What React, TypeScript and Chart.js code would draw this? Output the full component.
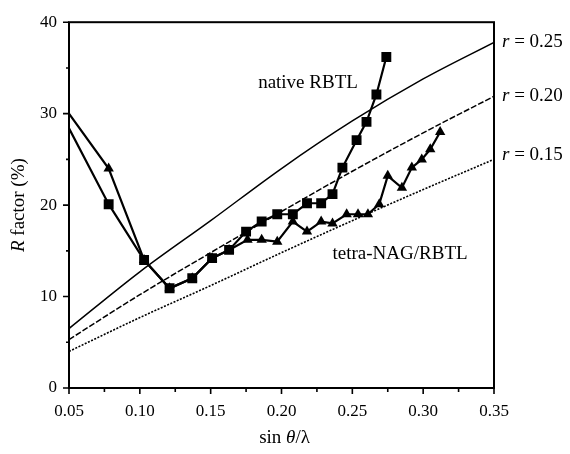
import React, { useEffect, useRef } from 'react';
import { Chart, registerables } from 'chart.js';

Chart.register(...registerables);

// ---- data ----
const xTicks = [0.05, 0.1, 0.15, 0.2, 0.25, 0.3, 0.35];
const xTickLabels = ['0.05', '0.10', '0.15', '0.20', '0.25', '0.30', '0.35'];
const xMinorTicks = [0.075, 0.125, 0.175, 0.225, 0.275, 0.325];
const yTicks = [0, 10, 20, 30, 40];
const yTickLabels = ['0', '10', '20', '30', '40'];
const yMinorTicks = [5, 15, 25, 35];

// native RBTL (squares)
const nativeX = [0.05, 0.078, 0.103, 0.121, 0.137, 0.151, 0.163, 0.175, 0.186, 0.197, 0.208, 0.218, 0.228, 0.236, 0.243, 0.253, 0.26, 0.267, 0.274];
const nativeY = [28.4, 20.1, 14.0, 10.9, 12.0, 14.2, 15.1, 17.1, 18.2, 19.0, 19.0, 20.2, 20.2, 21.2, 24.1, 27.1, 29.1, 32.1, 36.2];

// tetra-NAG/RBTL (triangles)
const tetraX = [0.05, 0.078, 0.103, 0.121, 0.137, 0.151, 0.163, 0.176, 0.186, 0.197, 0.208, 0.218, 0.228, 0.236, 0.246, 0.254, 0.261, 0.269, 0.275, 0.285, 0.292, 0.299, 0.305, 0.312];
const tetraY = [30.0, 24.0, 14.0, 10.9, 12.0, 14.2, 15.1, 16.2, 16.2, 16.0, 18.2, 17.1, 18.2, 18.0, 19.0, 19.0, 19.0, 20.1, 23.2, 21.9, 24.1, 25.0, 26.1, 28.0];

// Luzzati reference curves
const luzX = [0.05, 0.1, 0.15, 0.2, 0.25, 0.3, 0.35];
const r25 = [6.5, 12.7, 18.3, 24.0, 29.2, 33.8, 37.8];
const r20 = [5.3, 10.2, 14.8, 19.3, 23.7, 27.9, 31.9];
const r15 = [4.0, 7.7, 11.2, 14.8, 18.3, 21.7, 25.0];
const rNames = ['0.25', '0.20', '0.15'];
const rLabelY = [37.8, 31.9, 25.5];

const annotations = [
  { text: 'native RBTL', x: 0.2187, y: 33.3 },
  { text: 'tetra-NAG/RBTL', x: 0.2837, y: 14.7 },
];

const FONT = '"Liberation Serif", "Times New Roman", Times, serif';

type Seg = { t: string; i?: boolean };

function drawRich(ctx: CanvasRenderingContext2D, segs: Seg[], x: number, y: number, size: number, align: 'left' | 'center') {
  const widths = segs.map((s) => {
    ctx.font = `${s.i ? 'italic ' : ''}${size}px ${FONT}`;
    return ctx.measureText(s.t).width;
  });
  const total = widths.reduce((a, b) => a + b, 0);
  let cx = align === 'center' ? x - total / 2 : x;
  ctx.textAlign = 'left';
  ctx.textBaseline = 'middle';
  ctx.fillStyle = '#000';
  segs.forEach((s, k) => {
    ctx.font = `${s.i ? 'italic ' : ''}${size}px ${FONT}`;
    ctx.fillText(s.t, cx, y);
    cx += widths[k];
  });
}

const decor = {
  id: 'decor',
  afterDatasetsDraw(chart: any) {
    const { ctx, chartArea: a, scales } = chart;
    const x = scales.x;
    const y = scales.y;
    ctx.save();
    ctx.strokeStyle = '#000';
    ctx.lineWidth = 2;
    ctx.strokeRect(a.left, a.top, a.right - a.left, a.bottom - a.top);

    ctx.lineWidth = 1.6;
    ctx.beginPath();
    xTicks.forEach((v) => {
      const px = x.getPixelForValue(v);
      ctx.moveTo(px, a.bottom);
      ctx.lineTo(px, a.bottom + 6);
    });
    xMinorTicks.forEach((v) => {
      const px = x.getPixelForValue(v);
      ctx.moveTo(px, a.bottom);
      ctx.lineTo(px, a.bottom + 4);
    });
    yTicks.forEach((v) => {
      const py = y.getPixelForValue(v);
      ctx.moveTo(a.left, py);
      ctx.lineTo(a.left - 6, py);
    });
    yMinorTicks.forEach((v) => {
      const py = y.getPixelForValue(v);
      ctx.moveTo(a.left, py);
      ctx.lineTo(a.left - 3, py);
    });
    ctx.stroke();

    // axis titles
    drawRich(ctx, [{ t: 'sin ' }, { t: 'θ', i: true }, { t: '/λ' }], (a.left + a.right) / 2 + 3, 438, 19, 'center');
    ctx.save();
    ctx.translate(19, (a.top + a.bottom) / 2);
    ctx.rotate(-Math.PI / 2);
    drawRich(ctx, [{ t: 'R', i: true }, { t: ' factor (%)' }], 0, 0, 19, 'center');
    ctx.restore();

    // r labels at curve ends
    rNames.forEach((name, k) => {
      const py = y.getPixelForValue(rLabelY[k]);
      drawRich(ctx, [{ t: 'r', i: true }, { t: ' = ' + name }], a.right + 8, py, 19, 'left');
    });

    annotations.forEach((an) => {
      drawRich(ctx, [{ t: an.text }], x.getPixelForValue(an.x), y.getPixelForValue(an.y), 19, 'center');
    });
    ctx.restore();
  },
};

const pts = (xs: number[], ys: number[]) => xs.map((v, i) => ({ x: v, y: ys[i] }));

export default function App() {
  const ref = useRef<HTMLCanvasElement | null>(null);
  useEffect(() => {
    if (!ref.current) return;
    const chart = new Chart(ref.current, {
      type: 'line',
      data: {
        datasets: [
          {
            label: 'native RBTL',
            data: pts(nativeX, nativeY),
            borderColor: '#000',
            backgroundColor: '#000',
            borderWidth: 2.2,
            pointStyle: 'rect',
            pointRadius: (c: any) => (c.dataIndex === 0 ? 0 : 7),
            pointBorderWidth: 0,
            tension: 0,
          },
          {
            label: 'tetra-NAG/RBTL',
            data: pts(tetraX, tetraY),
            borderColor: '#000',
            backgroundColor: '#000',
            borderWidth: 2.2,
            pointStyle: 'triangle',
            pointRadius: (c: any) => (c.dataIndex === 0 ? 0 : 6),
            pointBorderWidth: 0,
            tension: 0,
          },
          {
            label: 'r = 0.25',
            data: pts(luzX, r25),
            borderColor: '#000',
            borderWidth: 1.5,
            pointRadius: 0,
            cubicInterpolationMode: 'monotone',
          },
          {
            label: 'r = 0.20',
            data: pts(luzX, r20),
            borderColor: '#000',
            borderWidth: 1.5,
            borderDash: [6, 2],
            pointRadius: 0,
            cubicInterpolationMode: 'monotone',
          },
          {
            label: 'r = 0.15',
            data: pts(luzX, r15),
            borderColor: '#000',
            borderWidth: 1.6,
            borderDash: [2, 1.5],
            pointRadius: 0,
            cubicInterpolationMode: 'monotone',
          },
        ],
      } as any,
      options: {
        animation: false,
        responsive: false,
        devicePixelRatio: 1,
        events: [],
        layout: { padding: { left: 0, right: 76, top: 18, bottom: 0 } },
        plugins: { legend: { display: false }, tooltip: { enabled: false } },
        scales: {
          x: {
            type: 'linear',
            min: 0.05,
            max: 0.35,
            afterBuildTicks: (s: any) => {
              s.ticks = xTicks.map((v) => ({ value: v }));
            },
            afterFit: (s: any) => {
              s.height = 66;
            },
            ticks: {
              callback: (_v: any, i: number) => xTickLabels[i],
              font: { family: FONT, size: 17 },
              color: '#000',
              padding: 13,
              maxRotation: 0,
              autoSkip: false,
            },
            grid: { display: false, drawTicks: false },
            border: { display: false },
          },
          y: {
            type: 'linear',
            min: 0,
            max: 40,
            afterBuildTicks: (s: any) => {
              s.ticks = yTicks.map((v) => ({ value: v }));
            },
            afterFit: (s: any) => {
              s.width = 69;
            },
            ticks: {
              callback: (_v: any, i: number) => yTickLabels[i],
              font: { family: FONT, size: 17 },
              color: '#000',
              padding: 12,
              autoSkip: false,
            },
            grid: { display: false, drawTicks: false },
            border: { display: false },
          },
        },
      } as any,
      plugins: [decor],
    });
    return () => chart.destroy();
  }, []);
  return (
    <div style={{ position: 'absolute', left: 0, top: 0, width: 570, height: 454, background: '#fff' }}>
      <canvas ref={ref} width={570} height={454} style={{ display: 'block' }} />
    </div>
  );
}
